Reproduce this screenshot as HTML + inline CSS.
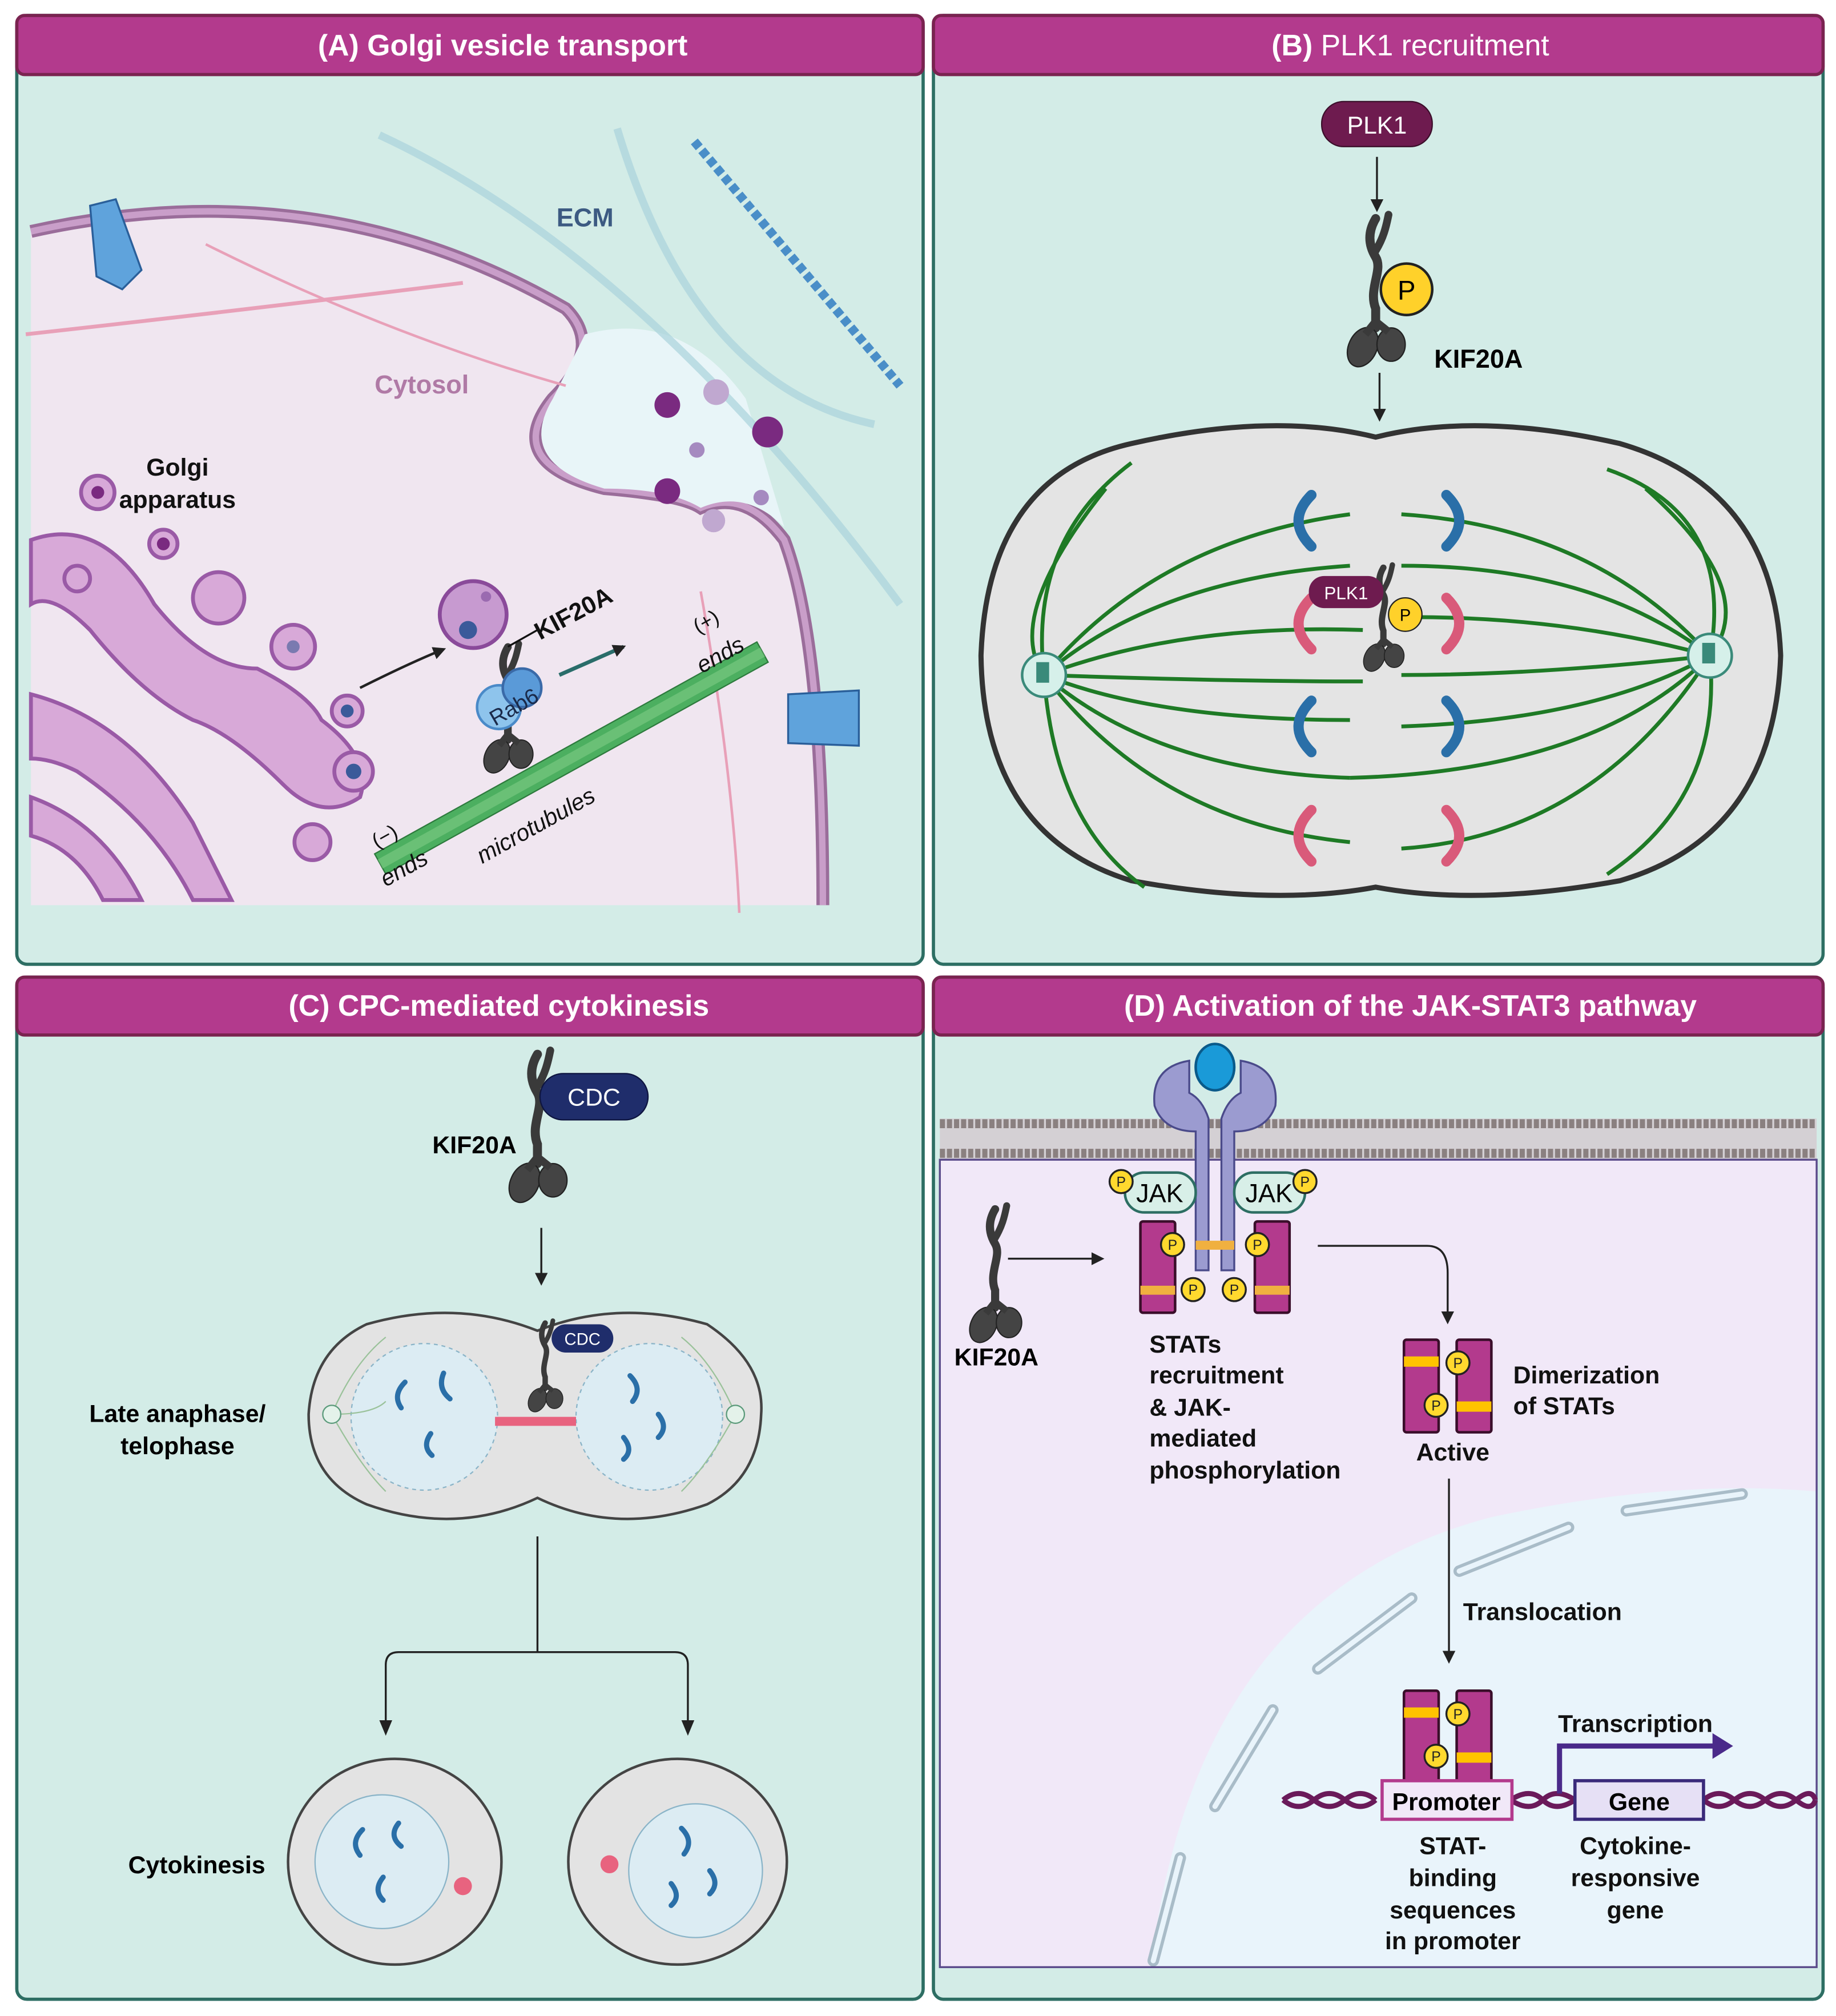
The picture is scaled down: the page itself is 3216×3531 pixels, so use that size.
<!DOCTYPE html>
<html><head><meta charset="utf-8"><style>
html,body{margin:0;padding:0;background:#fff}
svg{display:block}
text{font-family:"Liberation Sans",sans-serif}
</style></head><body>
<svg width="3216" height="3531" viewBox="0 0 1428 1568" xmlns="http://www.w3.org/2000/svg">
<defs>
<g id="kif">
 <path d="M0,-55 C-6,-45 -6,-35 0,-25 C6,-15 -6,0 0,15 L0,30" stroke="#3a3a3a" stroke-width="7" fill="none" stroke-linecap="round"/>
 <path d="M0,-30 C6,-40 8,-48 10,-58" stroke="#3a3a3a" stroke-width="6" fill="none" stroke-linecap="round"/>
 <ellipse cx="-10" cy="45" rx="11" ry="16" fill="#444" stroke="#222" transform="rotate(25 -10 45)"/>
 <ellipse cx="12" cy="43" rx="11" ry="13" fill="#444" stroke="#222"/>
 <path d="M0,25 L-8,35 M0,25 L10,33" stroke="#3a3a3a" stroke-width="6"/>
</g>
<g id="pb"><circle r="9" fill="#ffd92e" stroke="#222" stroke-width="1.5"/><text y="4" font-size="11" text-anchor="middle" fill="#222">P</text></g>
<marker id="ar" markerWidth="10" markerHeight="10" refX="8" refY="5" orient="auto" markerUnits="userSpaceOnUse"><path d="M0,0 L10,5 L0,10 z" fill="#222"/></marker>
</defs>
<rect width="1428" height="1568" fill="#fff"/>

<g stroke="#2d6e63" stroke-width="2.5" fill="#d3ece7">
<rect x="13" y="12" width="705" height="738" rx="8"/>
<rect x="726" y="12" width="692" height="738" rx="8"/>
<rect x="13" y="760" width="705" height="795" rx="8"/>
<rect x="726" y="760" width="692" height="795" rx="8"/>
</g>
<g fill="#b33a8d" stroke="#7a2350" stroke-width="2.5">
<rect x="13" y="12" width="705" height="46" rx="6"/>
<rect x="726" y="12" width="692" height="46" rx="6"/>
<rect x="13" y="760" width="705" height="45" rx="6"/>
<rect x="726" y="760" width="692" height="45" rx="6"/>
</g>
<g fill="#fff" font-size="23" font-weight="bold" text-anchor="middle">
<text x="391" y="43">(A) Golgi vesicle transport</text>
<text x="1097" y="43" font-weight="normal"><tspan font-weight="bold">(B)</tspan> PLK1 recruitment</text>
<text x="388" y="790">(C) CPC-mediated cytokinesis</text>
<text x="1097" y="790">(D) Activation of the JAK-STAT3 pathway</text>
</g>

<!-- Panel A -->
<path d="M24,180 Q250,130 440,240 Q470,270 430,310 Q390,360 470,380 Q530,385 545,395 Q580,380 610,420 Q640,500 640,704 L24,704 Z" fill="#f0e6f0"/>
<path d="M24,180 Q250,130 440,240 Q470,270 430,310 Q390,360 470,380 Q530,385 545,395 Q580,380 610,420 Q640,500 640,704" fill="none" stroke="#9a6d9a" stroke-width="10"/>
<path d="M24,180 Q250,130 440,240 Q470,270 430,310 Q390,360 470,380 Q530,385 545,395 Q580,380 610,420 Q640,500 640,704" fill="none" stroke="#c99ec9" stroke-width="5"/>
<path d="M455,260 Q530,240 580,310 L610,410 Q580,380 545,395 Q520,380 470,380 Q400,360 430,310Z" fill="#e8f5f8"/>
<path d="M540,110 L700,300" stroke="#4a8ec8" stroke-width="7" stroke-dasharray="6 3"/>
<path d="M295,105 Q500,200 700,470" stroke="#a9d3dc" stroke-width="6" fill="none" opacity="0.7"/>
<path d="M480,100 Q540,300 680,330" stroke="#a9d3dc" stroke-width="6" fill="none" opacity="0.7"/>
<path d="M20,260 Q200,240 360,220" stroke="#e8a0b8" stroke-width="3" fill="none"/>
<path d="M160,190 Q300,260 440,300" stroke="#e8a0b8" stroke-width="2" fill="none"/>
<path d="M545,460 Q570,600 575,710" stroke="#e8a0b8" stroke-width="2" fill="none"/>
<text x="455" y="176" font-size="20" font-weight="bold" fill="#3c5a82" text-anchor="middle">ECM</text>
<text x="328" y="306" font-size="20" font-weight="bold" fill="#b07aa6" text-anchor="middle">Cytosol</text>
<g fill="#7a2a80"><circle cx="519" cy="315" r="10"/><circle cx="597" cy="336" r="12"/><circle cx="519" cy="382" r="10"/><circle cx="542" cy="350" r="6" fill="#a58ac0"/><circle cx="592" cy="387" r="6" fill="#a58ac0"/><circle cx="557" cy="305" r="10" fill="#c0a8d0"/><circle cx="555" cy="405" r="9" fill="#c0a8d0"/></g>
<path d="M70,160 L90,155 L110,210 L95,225 L75,215 Z" fill="#5fa3dc" stroke="#2a5f9a" stroke-width="1.5"/>
<path d="M613,540 L668,537 L668,580 L613,578 Z" fill="#5fa3dc" stroke="#2a5f9a" stroke-width="1.5"/>
<g fill="#d8a9d8" stroke="#9a5aa6" stroke-width="3">
<path d="M24,420 Q80,400 120,470 Q160,520 200,520 Q240,540 250,560 Q290,590 280,620 Q250,640 220,610 Q180,570 150,560 Q110,540 70,490 Q40,460 24,470 Z"/>
<path d="M24,540 Q100,560 150,640 Q170,680 180,700 L150,700 Q120,640 60,600 Q40,590 24,590 Z"/>
<path d="M24,620 Q80,640 110,700 L80,700 Q60,660 24,650 Z"/>
<circle cx="243" cy="655" r="14"/><circle cx="228" cy="503" r="17"/><circle cx="270" cy="553" r="12"/><circle cx="275" cy="600" r="15"/><circle cx="127" cy="423" r="11"/><circle cx="76" cy="383" r="13"/><circle cx="170" cy="465" r="20"/><circle cx="60" cy="450" r="10"/>
</g>
<g fill="#7a2a80"><circle cx="76" cy="383" r="5"/><circle cx="127" cy="423" r="5"/><circle cx="228" cy="503" r="5" fill="#7a7ab0"/><circle cx="270" cy="553" r="5" fill="#3a5a9a"/><circle cx="275" cy="600" r="6" fill="#3a5a9a"/></g>
<text x="138" y="370" font-size="19" font-weight="bold" text-anchor="middle" fill="#111">Golgi</text>
<text x="138" y="395" font-size="19" font-weight="bold" text-anchor="middle" fill="#111">apparatus</text>
<g transform="rotate(-29 440 592)"><rect x="275" y="583" width="340" height="18" fill="#4caf60" stroke="#2d7a3d"/><rect x="275" y="588" width="340" height="8" fill="#7ecb85" opacity=".6"/></g>
<text transform="translate(300 690) rotate(-29)" font-size="18" font-style="italic" fill="#111">ends</text>
<text transform="translate(293 660) rotate(-29)" font-size="16" fill="#111">(−)</text>
<text transform="translate(375 672) rotate(-29)" font-size="18" font-style="italic" fill="#111">microtubules</text>
<text transform="translate(546 524) rotate(-29)" font-size="18" font-style="italic" fill="#111">ends</text>
<text transform="translate(543 493) rotate(-29)" font-size="16" fill="#111">(+)</text>
<circle cx="368" cy="478" r="26" fill="#c79ad0" stroke="#8a4a9a" stroke-width="3"/><circle cx="364" cy="490" r="7" fill="#3a5a9a"/><circle cx="378" cy="464" r="4" fill="#9a6ab0"/>
<use href="#kif" transform="translate(395 550) scale(0.85)"/>
<circle cx="388" cy="550" r="17" fill="#8ec4ec" stroke="#4a8ac8" stroke-width="2"/><circle cx="406" cy="535" r="15" fill="#5a9ad8" stroke="#3a6aa8" stroke-width="2"/>
<text transform="translate(385 565) rotate(-30)" font-size="17" fill="#1a2a4a">Rab6</text>
<line x1="395" y1="503" x2="418" y2="490" stroke="#111" stroke-width="1.5"/>
<text transform="translate(420 498) rotate(-28)" font-size="19" font-weight="bold" fill="#111">KIF20A</text>
<path d="M280,535 Q320,515 345,505" stroke="#222" stroke-width="2" fill="none" marker-end="url(#ar)"/>
<line x1="435" y1="525" x2="485" y2="503" stroke="#2a6d6a" stroke-width="3" marker-end="url(#ar)"/>

<!-- Panel B -->
<rect x="1028" y="79" width="86" height="35" rx="17" fill="#6e1b4f" stroke="#3a0e2a"/>
<text x="1071" y="104" font-size="19" fill="#fff" text-anchor="middle">PLK1</text>
<line x1="1071" y1="122" x2="1071" y2="163" stroke="#222" stroke-width="1.5" marker-end="url(#ar)"/>
<use href="#kif" transform="translate(1070 225)"/>
<circle cx="1094" cy="225" r="20" fill="#ffd12a" stroke="#222" stroke-width="2"/><text x="1094" y="233" font-size="21" text-anchor="middle">P</text>
<text x="1150" y="286" font-size="20" font-weight="bold" text-anchor="middle">KIF20A</text>
<line x1="1073" y1="290" x2="1073" y2="326" stroke="#222" stroke-width="1.5" marker-end="url(#ar)"/>
<path d="M1070,340 Q1150,320 1260,345 Q1380,380 1385,510 Q1380,650 1260,685 Q1150,705 1070,690 Q990,705 880,685 Q765,650 763,510 Q768,370 880,345 Q990,320 1070,340 Z" fill="#e4e4e4" stroke="#333" stroke-width="4"/>
<g stroke="#1e7a25" stroke-width="3" fill="none">
<path d="M812,525 Q900,420 1050,400"/><path d="M812,525 Q900,450 1050,440"/><path d="M812,525 Q920,485 1060,490"/><path d="M812,525 Q950,530 1060,530"/><path d="M812,525 Q900,560 1050,560"/><path d="M812,525 Q900,600 1050,605"/><path d="M812,525 Q900,640 1050,655"/>
<path d="M1330,510 Q1240,410 1090,400"/><path d="M1330,510 Q1240,440 1090,440"/><path d="M1330,510 Q1220,480 1100,480"/><path d="M1330,510 Q1200,525 1090,525"/><path d="M1330,510 Q1240,560 1090,565"/><path d="M1330,510 Q1240,600 1050,605"/><path d="M1330,510 Q1240,650 1090,660"/>
<path d="M812,525 Q800,420 880,360"/><path d="M812,525 Q820,640 890,690"/><path d="M812,525 Q780,480 860,380"/>
<path d="M1330,510 Q1350,400 1250,365"/><path d="M1330,510 Q1340,620 1250,680"/><path d="M1330,510 Q1370,460 1280,380"/>
</g>
<circle cx="812" cy="525" r="17" fill="#d6f0ea" stroke="#3a8a7a" stroke-width="2"/><rect x="806" y="515" width="10" height="16" fill="#3a8a7a"/>
<circle cx="1330" cy="510" r="17" fill="#d6f0ea" stroke="#3a8a7a" stroke-width="2"/><rect x="1324" y="500" width="10" height="16" fill="#3a8a7a"/>
<g fill="none" stroke-width="8" stroke-linecap="round">
<path d="M1020,385 Q1000,405 1020,425" stroke="#2a6fa8"/><path d="M1125,385 Q1145,405 1125,425" stroke="#2a6fa8"/>
<path d="M1020,545 Q1000,565 1020,585" stroke="#2a6fa8"/><path d="M1125,545 Q1145,565 1125,585" stroke="#2a6fa8"/>
<path d="M1020,465 Q1000,485 1020,505" stroke="#d95a7a"/><path d="M1125,465 Q1145,485 1125,505" stroke="#d95a7a"/>
<path d="M1020,630 Q1000,650 1020,670" stroke="#d95a7a"/><path d="M1125,630 Q1145,650 1125,670" stroke="#d95a7a"/>
</g>
<use href="#kif" transform="translate(1076 480) scale(0.7)"/>
<rect x="1018" y="448" width="58" height="25" rx="12" fill="#6e1b4f"/><text x="1047" y="466" font-size="14" fill="#fff" text-anchor="middle">PLK1</text>
<circle cx="1093" cy="478" r="13" fill="#ffd12a" stroke="#222"/><text x="1093" y="483" font-size="13" text-anchor="middle">P</text>

<!-- Panel C -->
<use href="#kif" transform="translate(418 875)"/>
<rect x="420" y="835" width="84" height="36" rx="18" fill="#1f2d6b" stroke="#0e1540"/>
<text x="462" y="860" font-size="19" fill="#fff" text-anchor="middle">CDC</text>
<text x="369" y="897" font-size="19" font-weight="bold" text-anchor="middle">KIF20A</text>
<line x1="421" y1="955" x2="421" y2="998" stroke="#222" stroke-width="1.5" marker-end="url(#ar)"/>
<path d="M418,1035 Q480,1010 550,1030 Q595,1060 592,1100 Q590,1150 550,1170 Q480,1195 418,1165 Q355,1195 285,1170 Q240,1150 240,1100 Q243,1050 285,1030 Q355,1010 418,1035 Z" fill="#e3e3e3" stroke="#444" stroke-width="2"/>
<circle cx="330" cy="1102" r="57" fill="#dcecf3" stroke="#8ab4c8" stroke-dasharray="3 3"/>
<circle cx="505" cy="1102" r="57" fill="#dcecf3" stroke="#8ab4c8" stroke-dasharray="3 3"/>
<rect x="385" y="1102" width="63" height="7" fill="#e8637f"/>
<g fill="none" stroke="#2a6fa8" stroke-width="4" stroke-linecap="round">
<path d="M315,1075 Q305,1085 312,1095"/><path d="M345,1068 Q340,1080 350,1088"/><path d="M335,1115 Q328,1125 336,1132"/>
<path d="M490,1070 Q500,1080 492,1090"/><path d="M512,1100 Q520,1110 512,1118"/><path d="M485,1118 Q493,1128 485,1135"/>
</g>
<g stroke="#9ac29a" stroke-width="1" fill="none"><path d="M258,1100 Q275,1060 300,1040 M258,1100 Q280,1140 300,1160 M258,1100 Q290,1100 300,1090"/><path d="M572,1100 Q555,1060 530,1040 M572,1100 Q550,1140 530,1160"/></g>
<circle cx="258" cy="1100" r="7" fill="#e4f2ea" stroke="#5a9a7a"/><circle cx="572" cy="1100" r="7" fill="#e4f2ea" stroke="#5a9a7a"/>
<use href="#kif" transform="translate(424 1062) scale(0.6)"/>
<rect x="429" y="1030" width="48" height="22" rx="11" fill="#1f2d6b"/><text x="453" y="1046" font-size="13" fill="#fff" text-anchor="middle">CDC</text>
<text x="138" y="1106" font-size="19" font-weight="bold" text-anchor="middle">Late anaphase/</text>
<text x="138" y="1131" font-size="19" font-weight="bold" text-anchor="middle">telophase</text>
<path d="M418,1195 L418,1285 M300,1345 L300,1295 Q300,1285 310,1285 L525,1285 Q535,1285 535,1295 L535,1345" stroke="#222" stroke-width="1.5" fill="none"/>
<path d="M295,1338 L305,1338 L300,1350 Z M530,1338 L540,1338 L535,1350Z" fill="#222"/>
<ellipse cx="307" cy="1448" rx="83" ry="80" fill="#e3e3e3" stroke="#444" stroke-width="2"/>
<ellipse cx="527" cy="1448" rx="85" ry="80" fill="#e3e3e3" stroke="#444" stroke-width="2"/>
<circle cx="297" cy="1448" r="52" fill="#dcecf3" stroke="#8ab4c8"/><circle cx="541" cy="1455" r="52" fill="#dcecf3" stroke="#8ab4c8"/>
<circle cx="360" cy="1467" r="7" fill="#e8637f"/><circle cx="474" cy="1450" r="7" fill="#e8637f"/>
<g fill="none" stroke="#2a6fa8" stroke-width="4" stroke-linecap="round">
<path d="M282,1423 Q272,1433 280,1443"/><path d="M310,1418 Q302,1428 312,1436"/><path d="M298,1460 Q290,1470 298,1478"/>
<path d="M530,1422 Q540,1432 532,1442"/><path d="M552,1455 Q560,1465 552,1473"/><path d="M522,1465 Q530,1475 522,1482"/>
</g>
<text x="153" y="1457" font-size="19" font-weight="bold" text-anchor="middle">Cytokinesis</text>

<!-- Panel D -->
<rect x="731" y="900" width="682" height="630" fill="#f1e8f8"/>
<path d="M895,1530 Q930,1240 1160,1180 Q1300,1150 1413,1160 L1413,1530 Z" fill="#e9f4fb"/>
<g fill="none" stroke="#a9bcc8" stroke-width="9" stroke-linecap="round">
<path d="M1265,1175 L1355,1162"/><path d="M1135,1222 L1220,1188"/><path d="M1025,1298 L1098,1243"/><path d="M945,1405 L990,1330"/><path d="M897,1525 L918,1445"/>
</g>
<g fill="none" stroke="#e9f4fb" stroke-width="4" stroke-linecap="round">
<path d="M1265,1175 L1355,1162"/><path d="M1135,1222 L1220,1188"/><path d="M1025,1298 L1098,1243"/><path d="M945,1405 L990,1330"/><path d="M897,1525 L918,1445"/>
</g>
<rect x="731" y="870" width="682" height="32" fill="#d4d0d4"/>
<line x1="731" y1="874" x2="1413" y2="874" stroke="#8a8080" stroke-width="7" stroke-dasharray="4 1.5"/>
<line x1="731" y1="897" x2="1413" y2="897" stroke="#8a8080" stroke-width="7" stroke-dasharray="4 1.5"/>
<rect x="731" y="902" width="682" height="628" fill="none" stroke="#5a4a8a" stroke-width="1.5"/>
<path d="M925,825 Q895,830 898,860 Q905,880 930,880 L930,988 L940,988 L940,870 Q935,855 925,850Z" fill="#9b9bd0" stroke="#4a4a8a" stroke-width="1.5"/>
<path d="M965,825 Q995,830 992,860 Q985,880 960,880 L960,988 L950,988 L950,870 Q955,855 965,850Z" fill="#9b9bd0" stroke="#4a4a8a" stroke-width="1.5"/>
<ellipse cx="945" cy="830" rx="15" ry="18" fill="#1a9ad8" stroke="#0a5a8a" stroke-width="2"/>
<rect x="875" y="912" width="55" height="31" rx="15" fill="#d8efe8" stroke="#2d6e63" stroke-width="2"/>
<rect x="960" y="912" width="55" height="31" rx="15" fill="#d8efe8" stroke="#2d6e63" stroke-width="2"/>
<text x="902" y="935" font-size="20" text-anchor="middle">JAK</text><text x="987" y="935" font-size="20" text-anchor="middle">JAK</text>
<use href="#pb" transform="translate(872 919)"/><use href="#pb" transform="translate(1015 919)"/>
<g fill="#b33a8d" stroke="#3a0e2a" stroke-width="2">
<rect x="887" y="950" width="27" height="71" rx="2"/><rect x="976" y="950" width="27" height="71" rx="2"/>
</g>
<rect x="887" y="1000" width="27" height="7" fill="#f0b040"/><rect x="976" y="1000" width="27" height="7" fill="#f0b040"/>
<rect x="930" y="965" width="30" height="7" fill="#f0b040"/>
<use href="#pb" transform="translate(912 968)"/><use href="#pb" transform="translate(978 968)"/><use href="#pb" transform="translate(928 1003)"/><use href="#pb" transform="translate(960 1003)"/>
<use href="#kif" transform="translate(774 990) scale(0.9)"/>
<text x="775" y="1062" font-size="19" font-weight="bold" text-anchor="middle">KIF20A</text>
<line x1="784" y1="979" x2="857" y2="979" stroke="#222" stroke-width="1.5" marker-end="url(#ar)"/>
<g font-size="19" font-weight="bold" fill="#111">
<text x="894" y="1052">STATs</text><text x="894" y="1076">recruitment</text><text x="894" y="1101">&amp; JAK-</text><text x="894" y="1125">mediated</text><text x="894" y="1150">phosphorylation</text>
<text x="1177" y="1076">Dimerization</text><text x="1177" y="1100">of STATs</text>
<text x="1130" y="1136" text-anchor="middle">Active</text>
<text x="1138" y="1260">Translocation</text>
<text x="1272" y="1347" text-anchor="middle">Transcription</text>
<text x="1130" y="1442" text-anchor="middle">STAT-</text><text x="1130" y="1467" text-anchor="middle">binding</text><text x="1130" y="1492" text-anchor="middle">sequences</text><text x="1130" y="1516" text-anchor="middle">in promoter</text>
<text x="1272" y="1442" text-anchor="middle">Cytokine-</text><text x="1272" y="1467" text-anchor="middle">responsive</text><text x="1272" y="1492" text-anchor="middle">gene</text>
</g>
<path d="M1025,969 L1110,969 Q1126,969 1126,990 L1126,1028" stroke="#222" stroke-width="1.5" fill="none" marker-end="url(#ar)"/>
<line x1="1127" y1="1150" x2="1127" y2="1292" stroke="#222" stroke-width="1.5" marker-end="url(#ar)"/>
<g id="dimer">
<g fill="#b33a8d" stroke="#3a0e2a" stroke-width="2"><rect x="1092" y="1042" width="27" height="72" rx="2"/><rect x="1133" y="1042" width="27" height="72" rx="2"/></g>
<rect x="1092" y="1055" width="27" height="8" fill="#ffc300"/><rect x="1133" y="1090" width="27" height="8" fill="#ffc300"/>
<use href="#pb" transform="translate(1134 1060)"/><use href="#pb" transform="translate(1117 1093)"/>
</g>
<use href="#dimer" transform="translate(0 273)"/>
<path d="M998,1400 Q1010,1390 1022,1400 T1046,1400 T1070,1400 M998,1400 Q1010,1410 1022,1400 T1046,1400 T1070,1400 M1175,1400 Q1190,1390 1200,1400 T1225,1400 M1175,1400 Q1190,1410 1200,1400 T1225,1400 M1325,1400 Q1337,1390 1349,1400 T1373,1400 T1397,1400 T1412,1400 M1325,1400 Q1337,1410 1349,1400 T1373,1400 T1397,1400 T1412,1400" stroke="#6a1a5a" stroke-width="4" fill="none"/>
<rect x="1075" y="1385" width="101" height="30" fill="#f1e8f8" stroke="#b33a8d" stroke-width="2.5"/>
<text x="1125" y="1408" font-size="19" font-weight="bold" text-anchor="middle">Promoter</text>
<rect x="1225" y="1385" width="100" height="30" fill="#e6e0f5" stroke="#3a2a7a" stroke-width="2.5"/>
<text x="1275" y="1408" font-size="19" font-weight="bold" text-anchor="middle">Gene</text>
<path d="M1213,1395 L1213,1358 L1335,1358" stroke="#4a2a8a" stroke-width="4" fill="none"/>
<path d="M1332,1348 L1348,1358 L1332,1368 Z" fill="#4a2a8a"/>
</svg>
</body></html>
